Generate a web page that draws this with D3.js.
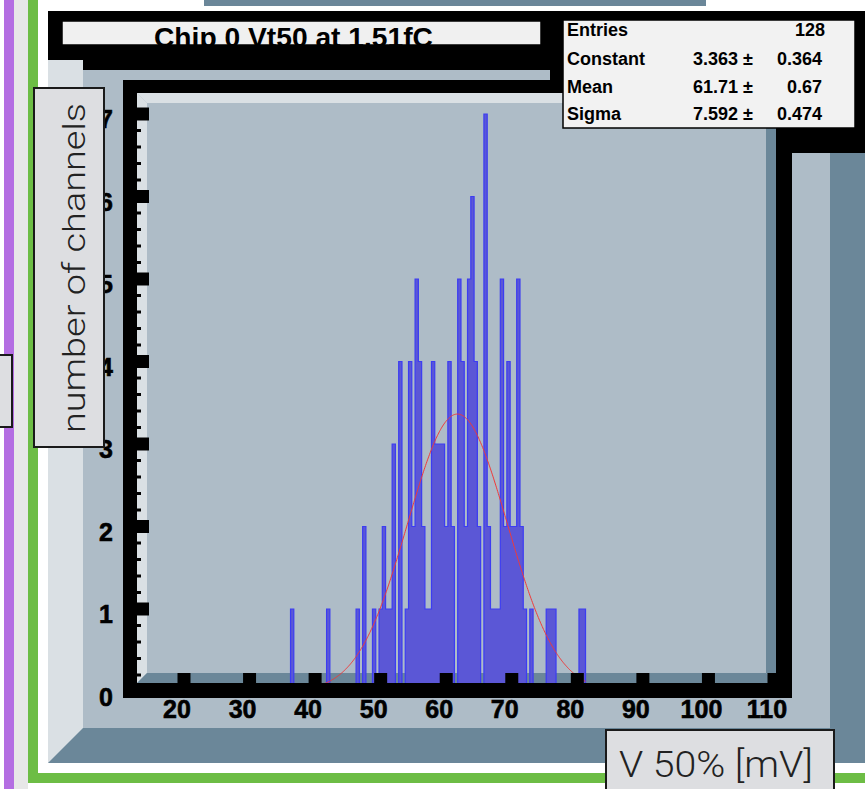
<!DOCTYPE html>
<html><head><meta charset="utf-8">
<script src="https://cdn.jsdelivr.net/npm/d3@7"></script>
<style>html,body{margin:0;padding:0;background:#fff;overflow:hidden}svg{display:block}</style>
</head><body>
<svg id="c" width="865" height="789"></svg>
<script>
// ---------- data ----------
const title = "Chip 0 Vt50 at 1.51fC";
const xLabel = "V 50% [mV]";
const yLabel = "number of channels";
const xTicks = [20, 30, 40, 50, 60, 70, 80, 90, 100, 110];
const yTicks = [0, 1, 2, 3, 4, 5, 6, 7];
const binWidth = 0.5;
const binCenters = [36.5, 42, 46.5, 47.5, 49, 50, 50.5, 51, 51.5, 52, 53, 54, 54.5, 55, 55.5, 56, 56.5, 57, 57.5,
  58, 58.5, 59, 59.5, 60, 60.5, 61, 62, 62.5, 63, 63.5, 64, 64.5, 65, 66, 66.5, 67, 67.5, 68, 68.5, 69, 69.5,
  70, 70.5, 71, 71.5, 72, 73, 75.5, 76, 76.5, 80.5, 81];
const counts = [1, 1, 1, 2, 1, 1, 2, 1, 1, 3, 4, 1, 4, 2, 5, 4, 2, 1, 1,
  4, 3, 3, 3, 2, 4, 2, 5, 4, 2, 5, 6, 4, 2, 7, 2, 1, 1, 1, 5, 2, 4,
  2, 2, 5, 2, 1, 1, 1, 1, 1, 1, 1];
const statNames = ["Entries", "Constant", "Mean", "Sigma"];
const statValues = ["128", "3.363", "61.71", "7.592"];
const statErrors = ["", "0.364", "0.67", "0.474"];
const fitConstant = 3.363, fitMean = 61.71, fitSigma = 7.592;

// ---------- drawing ----------
const svg = d3.select("#c");
const x = d3.scaleLinear().domain([20, 110]).range([184, 774]);
const y = d3.scaleLinear().domain([0, 7]).range([691.5, 114]);
const STEEL = "#aebcc7", LIGHT = "#dae0e4", DARK = "#6b8799";
const BOLD = "'Liberation Sans', Arial, Helvetica, sans-serif";
const THIN = "Roboto, 'Open Sans', 'Liberation Sans', sans-serif";

function rect(x0, y0, w, h, fill, stroke, sw) {
  const r = svg.append("rect").attr("x", x0).attr("y", y0).attr("width", w).attr("height", h).attr("fill", fill);
  if (stroke) r.attr("stroke", stroke).attr("stroke-width", sw || 1);
  return r;
}
function poly(pts, fill) {
  return svg.append("polygon").attr("points", pts.map(p => p.join(",")).join(" ")).attr("fill", fill);
}

// page decoration
rect(0, 0, 865, 789, "#fff");
rect(4, 0, 10, 789, "#b46ee2");
rect(14, 0, 14, 789, "#e7e7e7");
rect(28, 0, 10, 783, "#6dbd45");
rect(28, 773, 837, 10, "#6dbd45");
rect(38, 0, 827, 773, "#fff");
rect(204, 0, 502, 6, DARK);

// canvas with bevel
rect(48, 11, 817, 752, LIGHT);
poly([[865, 11], [830, 46], [830, 728], [83, 728], [48, 763], [865, 763]], DARK);
rect(83, 46, 747, 682, STEEL);

// black shadows of title and stats
poly([[48, 11], [865, 11], [865, 153], [583, 153], [583, 137], [550, 137], [550, 70], [83, 70], [83, 60], [48, 60]], "#000");

// frame
rect(123, 80, 669, 618, "#000");
rect(137, 93, 639, 590, STEEL);
poly([[137, 93], [776, 93], [766, 103], [147, 103]], LIGHT);
poly([[137, 93], [147, 103], [147, 673], [137, 683]], LIGHT);
poly([[137, 683], [147, 673], [766, 673], [776, 683]], DARK);
poly([[776, 93], [776, 683], [766, 673], [766, 103]], DARK);

// histogram
const lookup = new Map(binCenters.map((c, i) => [Math.round(c / binWidth), counts[i]]));
const kMin = Math.round(d3.min(binCenters) / binWidth), kMax = Math.round(d3.max(binCenters) / binWidth);
const pts = [[x(kMin * binWidth - binWidth / 2), y(0)]];
for (let k = kMin; k <= kMax; k++) {
  const c = lookup.get(k) || 0;
  pts.push([x(k * binWidth - binWidth / 2), y(c)]);
  pts.push([x(k * binWidth + binWidth / 2), y(c)]);
}
pts.push([x(kMax * binWidth + binWidth / 2), y(0)]);
svg.append("path").attr("d", d3.line()(pts) + "Z")
  .attr("fill", "#5b57d6").attr("stroke", "#3c3cf2").attr("stroke-width", 1.2).attr("stroke-linejoin", "miter");

// fit curve
const fx = d3.range(kMin * binWidth - binWidth / 2, kMax * binWidth + binWidth / 2 + 0.001, 0.1);
svg.append("path").attr("d", d3.line().x(v => x(v)).y(v => y(fitConstant * Math.exp(-0.5 * ((v - fitMean) / fitSigma) ** 2)))(fx))
  .attr("fill", "none").attr("stroke", "#f03a3a").attr("stroke-width", 1);

// axis line on top of histogram
rect(123, 683, 669, 15, "#000");

// ticks
xTicks.forEach(v => rect(x(v) - 6.5, 673, 13, 11, "#000"));
yTicks.forEach(v => rect(137, y(v) - 6.5, 12, 13, "#000"));
for (let c = 0; c < 7; c++) for (let j = 1; j < 5; j++) rect(137, y(c + j / 5) - 1.5, 4, 3, "#000");

// tick labels
svg.selectAll(".xl").data(xTicks).join("text").attr("x", d => x(d) - 7).attr("y", 718)
  .attr("text-anchor", "middle").attr("font-family", BOLD).attr("font-weight", "bold").attr("font-size", 25)
  .attr("stroke", "#000").attr("stroke-width", 0.6).text(d => d);
svg.selectAll(".yl").data(yTicks).join("text").attr("x", 113).attr("y", d => y(d) + 14)
  .attr("text-anchor", "end").attr("font-family", BOLD).attr("font-weight", "bold").attr("font-size", 25)
  .attr("stroke", "#000").attr("stroke-width", 0.6).text(d => d);

// title box
svg.append("clipPath").attr("id", "tclip").append("rect").attr("x", 62).attr("y", 21).attr("width", 479).attr("height", 24);
rect(62, 21, 479, 24, "#f0f0f0", "#000", 1.5);
svg.append("text").attr("clip-path", "url(#tclip)").attr("x", 154).attr("y", 47).attr("font-family", BOLD)
  .attr("font-weight", "bold").attr("font-size", 27).attr("textLength", 279).attr("lengthAdjust", "spacingAndGlyphs").text(title);

// stats box
rect(563, 20, 292, 108, "#f2f2f2", "#000", 1.5);
const rowY = [36, 64.5, 92.5, 120];
function stat(xp, yp, anchor, s) {
  svg.append("text").attr("x", xp).attr("y", yp).attr("text-anchor", anchor).attr("font-family", BOLD)
    .attr("font-weight", "bold").attr("font-size", 18).text(s);
}
statNames.forEach((n, i) => {
  stat(567, rowY[i], "start", n);
  if (statErrors[i] === "") {
    stat(825, rowY[i], "end", statValues[i]);
  } else {
    stat(753, rowY[i], "end", statValues[i] + " \u00b1");
    stat(822, rowY[i], "end", statErrors[i]);
  }
});

// axis title boxes
rect(-2, 355, 14, 72, "#dddee1", "#1a1a1a", 2);
rect(34, 88, 70, 359, "#dddee1", "#1a1a1a", 2);
svg.append("text").attr("transform", "translate(85,268) rotate(-90)").attr("text-anchor", "middle")
  .attr("font-family", THIN).attr("font-weight", 300).attr("font-size", 31).attr("fill", "#222")
  .attr("textLength", 330).attr("lengthAdjust", "spacingAndGlyphs").text(yLabel);
rect(606, 730, 228, 70, "#dddee1", "#1a1a1a", 2);
svg.append("text").attr("x", 619).attr("y", 777).attr("font-family", THIN).attr("font-weight", 300)
  .attr("font-size", 37).attr("fill", "#222").attr("textLength", 194).attr("lengthAdjust", "spacingAndGlyphs").text(xLabel);
</script>
</body></html>
